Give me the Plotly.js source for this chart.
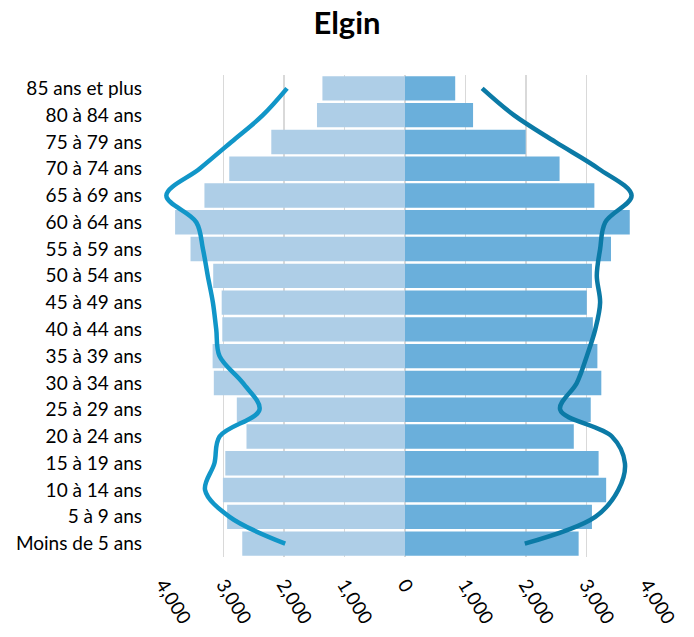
<!DOCTYPE html>
<html>
<head>
<meta charset="utf-8">
<script src="https://cdn.plot.ly/plotly-3.0.1.min.js"></script>
<style>html,body{margin:0;padding:0;background:#fff;}#chart{width:694px;height:637px;}</style>
</head>
<body>
<div id="chart"></div>
<script>
// Categories from top to bottom
const categories = ["85 ans et plus","80 à 84 ans","75 à 79 ans","70 à 74 ans","65 à 69 ans","60 à 64 ans","55 à 59 ans","50 à 54 ans","45 à 49 ans","40 à 44 ans","35 à 39 ans","30 à 34 ans","25 à 29 ans","20 à 24 ans","15 à 19 ans","10 à 14 ans","5 à 9 ans","Moins de 5 ans"];
// Left bars (drawn to the left)
const leftBars = [1365,1455,2210,2905,3315,3800,3545,3170,3030,3020,3180,3160,2780,2620,2970,3010,2940,2690];
// Right bars
const rightBars = [830,1125,1995,2555,3130,3715,3405,3090,3005,3105,3180,3245,3070,2790,3200,3325,3090,2870];
// Left comparison line
const leftLine = [1950,2350,2870,3395,3945,3450,3340,3260,3175,3120,3065,2680,2405,3065,3150,3305,2900,1980];
// Right comparison line
const rightLine = [1275,1800,2485,3200,3745,3310,3225,3170,3225,3145,3005,2840,2565,3420,3635,3525,3145,1980];
const tickVals = [-4000,-3000,-2000,-1000,0,1000,2000,3000,4000];
const tickText = ["4,000","3,000","2,000","1,000","0","1,000","2,000","3,000","4,000"];

const font = "Lato, 'Open Sans', 'Liberation Sans', sans-serif";

const traces = [
  {type:'bar', orientation:'h', y:categories, x:leftBars.map(v=>-v), marker:{color:'#aecee7'}, hoverinfo:'skip'},
  {type:'bar', orientation:'h', y:categories, x:rightBars, marker:{color:'#6aafdb'}, hoverinfo:'skip'},
  {type:'scatter', mode:'lines', y:categories, x:leftLine.map(v=>-v), line:{color:'#1196c8', width:4.5, shape:'spline', smoothing:1}, hoverinfo:'skip'},
  {type:'scatter', mode:'lines', y:categories, x:rightLine, line:{color:'#0b7aa6', width:4.5, shape:'spline', smoothing:1}, hoverinfo:'skip'}
];

const layout = {
  width:694, height:637,
  margin:{l:163, r:47, t:75, b:80},
  paper_bgcolor:'#ffffff', plot_bgcolor:'#ffffff',
  showlegend:false,
  barmode:'relative',
  bargap:0.09,
  font:{family:font, size:19, color:'#000000'},
  title:{text:'<b>Elgin</b>', x:0.5, xanchor:'center', y:0.964, yanchor:'middle', font:{family:font, size:31, color:'#000000'}},
  xaxis:{range:[-4000,4000], tickvals:tickVals, ticktext:tickText, tickangle:58, showgrid:true, gridcolor:'#d9d9d9', gridwidth:1.5, zeroline:false, showline:false, ticks:'', ticklabelstandoff:12, automargin:false, tickfont:{size:19, color:'#000'}, fixedrange:true},
  yaxis:{type:'category', categoryorder:'array', categoryarray:categories, range:[categories.length-0.5, -0.5], autorange:false, showgrid:false, zeroline:false, showline:false, ticks:'', ticklabelstandoff:20, automargin:false, tickfont:{size:19, color:'#000'}, fixedrange:true}
};

Plotly.newPlot('chart', traces, layout, {displayModeBar:false, staticPlot:true});
</script>
</body>
</html>
